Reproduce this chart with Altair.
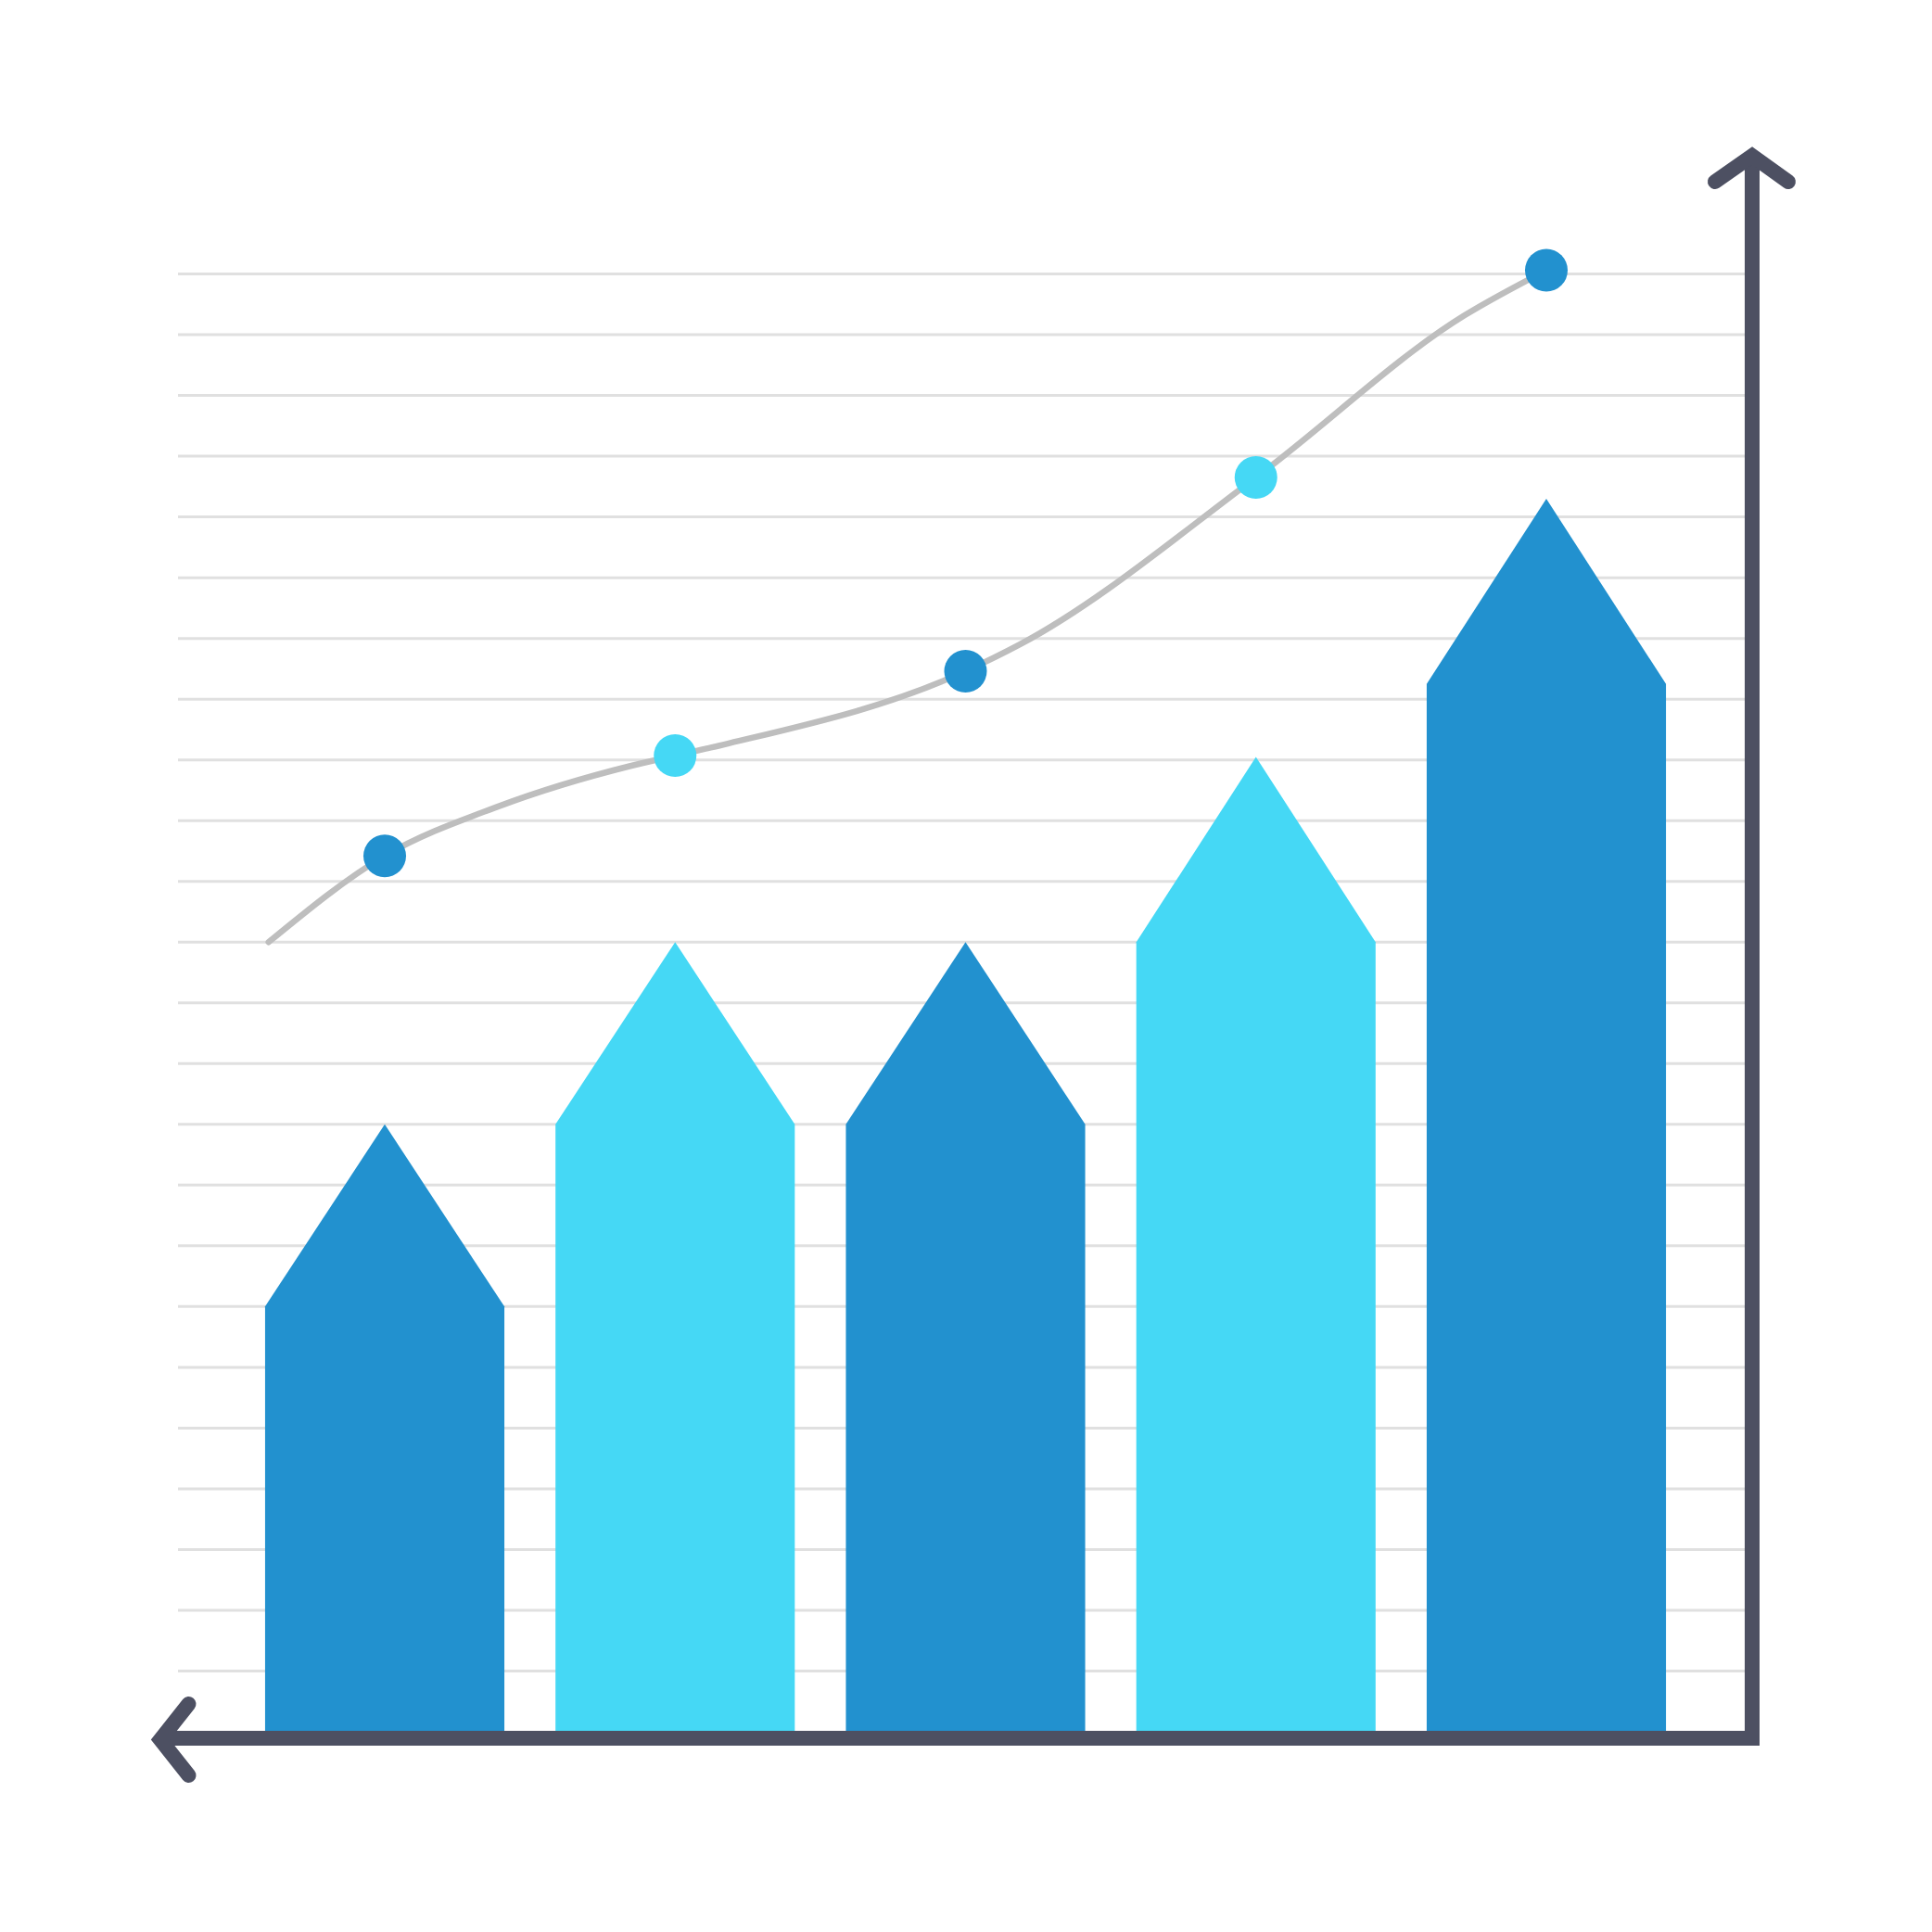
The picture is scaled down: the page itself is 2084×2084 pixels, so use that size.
import altair as alt
import pandas as pd

# ---- data (in grid units; one gridline = 1 unit) ----
bar_index = [1, 2, 3, 4, 5]
bar_shoulder = [7.0, 10.0, 10.0, 13.0, 17.25]
bar_peak = [10.0, 13.0, 13.0, 16.05, 20.3]
point_values = [14.42, 16.07, 17.46, 20.65, 24.06]
# trend curve, points (x in bar-index units)
curve_x = [0.6, 1.0, 1.389, 1.846, 2.0, 2.165, 3.0, 3.187, 4.0, 4.719, 5.0]
curve_y = [13.0, 14.42, 15.23, 15.90, 16.07, 16.25, 17.46, 17.9, 20.65, 23.32, 24.06]
grid_values = list(range(1, 25))

DARK = "#2291CF"
LIGHT = "#45D8F5"
AXIS = "#4D5062"
GRID = "#E0E0E0"
CURVE = "#BEBEBE"
bar_colors = [DARK, LIGHT, DARK, LIGHT, DARK]

HW = 0.412  # half bar width in x units

xscale = alt.Scale(domain=[0.2881, 5.6832], nice=False, zero=False)
yscale = alt.Scale(domain=[0, 26], nice=False, zero=False)

# bars as pentagons (area: shoulder - peak - shoulder, filled to 0)
bar_rows = []
for c, s, p, col in zip(bar_index, bar_shoulder, bar_peak, bar_colors):
    bar_rows += [
        {"bar": c, "x": c - HW, "y": s, "base": 0.0, "color": col},
        {"bar": c, "x": c, "y": p, "base": 0.0, "color": col},
        {"bar": c, "x": c + HW, "y": s, "base": 0.0, "color": col},
    ]
bars_df = pd.DataFrame(bar_rows)

points_df = pd.DataFrame({"x": bar_index, "y": point_values, "color": bar_colors})
curve_df = pd.DataFrame({"x": curve_x, "y": curve_y})
grid_df = pd.DataFrame({"v": grid_values})

# decorative axis frame (in data units)
frame_df = pd.DataFrame({
    "x": [0.2275, 5.7087, 5.7087],
    "y": [-0.107, -0.107, 25.946],
    "o": [0, 1, 2],
})
arrows_df = pd.DataFrame({
    "part": ["L", "L", "L", "T", "T", "T"],
    "x": [0.3248, 0.2275, 0.3248, 5.581, 5.7087, 5.833],
    "y": [0.458, -0.13, -0.717, 25.519, 25.946, 25.519],
    "o": [0, 1, 2, 0, 1, 2],
})

X = lambda: alt.X("x:Q", scale=xscale, axis=None)
Y = lambda: alt.Y("y:Q", scale=yscale, axis=None)

grid = alt.Chart(grid_df).mark_rule(color=GRID, strokeWidth=3).encode(
    y=alt.Y("v:Q", scale=yscale, axis=None)
)

bar_layers = []
for c in bar_index:
    sub = bars_df[bars_df["bar"] == c]
    bar_layers.append(
        alt.Chart(sub).mark_area(
            interpolate="linear", opacity=1, color=sub["color"].iloc[0]
        ).encode(
            x=X(),
            y=alt.Y("y:Q", scale=yscale, axis=None, stack=None),
            y2="base:Q",
        )
    )

curve = alt.Chart(curve_df).mark_line(
    interpolate="monotone", color=CURVE, strokeWidth=6.5, strokeCap="round"
).encode(x=X(), y=Y())

points = alt.Chart(points_df).mark_circle(size=2116, opacity=1).encode(
    x=X(), y=Y(), color=alt.Color("color:N", scale=None)
)

frame = alt.Chart(frame_df).mark_line(
    color=AXIS, strokeWidth=16, strokeJoin="miter", strokeCap="butt"
).encode(x=X(), y=Y(), order="o:Q")

arrows = alt.Chart(arrows_df).mark_line(
    color=AXIS, strokeWidth=16, strokeJoin="miter", strokeCap="round"
).encode(x=X(), y=Y(), order="o:Q", detail="part:N")

chart = alt.layer(grid, *bar_layers, curve, points, frame, arrows).properties(
    width=1690,
    height=1703.5,
    padding={"left": 184, "top": 156.5, "right": 150, "bottom": 150},
    autosize=alt.AutoSizeParams(type="none"),
    background="white",
).configure_view(stroke=None)

chart.save("out.html", embed_options={"renderer": "svg", "actions": False})
